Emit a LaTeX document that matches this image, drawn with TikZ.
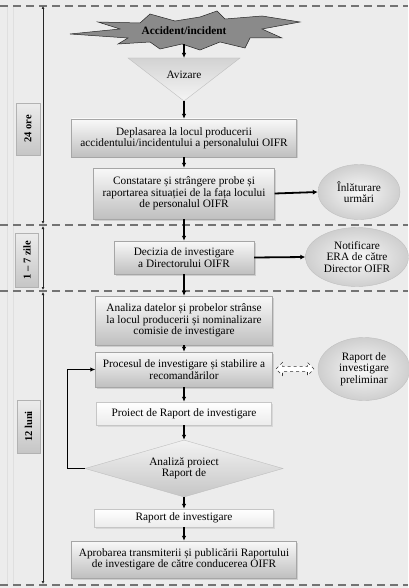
\documentclass[tikz,border=0pt]{standalone}
\usepackage{fontspec}
\setmainfont{Liberation Serif}
\usetikzlibrary{shapes.geometric, shapes.arrows, arrows.meta, shadows}
\definecolor{bggray}{RGB}{236, 236, 236}
\definecolor{burstgray}{RGB}{138, 138, 138}

\begin{document}
\begin{tikzpicture}[x=1pt, y=-1pt,
    every node/.style={font=\fontsize{11.3}{11.3}\selectfont, align=center},
    stepbox/.style={rectangle, draw=gray!70, top color=gray!5, bottom color=gray!50,
      drop shadow={shadow xshift=1.5pt, shadow yshift=-1.5pt, fill=gray!60}, inner sep=1pt},
    lightbox/.style={rectangle, draw=gray!45, top color=white, bottom color=gray!15,
      drop shadow={shadow xshift=1.5pt, shadow yshift=-1.5pt, fill=gray!45}, inner sep=1pt},
    sidebox/.style={ellipse, draw=gray!50, inner color=gray!5, outer color=gray!38, inner sep=0pt},
    periodbox/.style={rectangle, rotate=90, draw=gray!60, top color=gray!15, bottom color=gray!45,
      font=\fontsize{10.5}{10.5}\selectfont\bfseries, inner sep=1pt},
    flow/.style={-{Latex[length=5pt, width=4.5pt]}, line width=1.1pt},
    sideflow/.style={-{Latex[length=5pt, width=5pt]}, line width=1.8pt},
    sepline/.style={gray!90!black, line width=1.8pt, dash pattern=on 8pt off 5pt},
    timeline/.style={{Latex[length=3pt, width=3pt]}-{Latex[length=3pt, width=3pt]}, gray!30!black, line width=0.7pt}
  ]
    \useasboundingbox (0,0) rectangle (408,588);
    % background
    \fill[bggray] (0,0) rectangle (408,588);
    \draw[gray!25] (7,6) -- (7,585) (13,6) -- (13,585);
    % separators between periods
    \foreach \y in {6,225,291,585}
      \draw[sepline] (0,\y) -- (408,\y);
    % time axis
    \foreach \ya/\yb in {6/224,226/290,292/584}
      \draw[timeline] (43,\ya) -- (43,\yb);
    \node[periodbox, minimum width=52, minimum height=24] (ore) at (28,129) {24 ore};
    \node[periodbox, minimum width=54, minimum height=23] (zile) at (27,260) {1 -- 7 zile};
    \node[periodbox, minimum width=53, minimum height=23] (luni) at (28.5,426.5) {12 luni};

    % accident / incident
    \filldraw[fill=burstgray, draw=gray!30!black, line width=0.5pt]
      (70,34) -- (120,29) -- (98,22) -- (140,23) -- (150,14) -- (175,21) -- (200,17)
      -- (217,11) -- (225,19) -- (262,16) -- (300,22) -- (262,29) -- (282,38) -- (250,38)
      -- (245,48) -- (220,42) -- (200,50) -- (182,44) -- (160,49) -- (150,42) -- (118,44)
      -- (128,38) -- cycle;
    \node[font=\fontsize{11.3}{11.3}\selectfont\bfseries, minimum height=26] (acc) at (184,31) {Accident/incident};

    % avizare
    \coordinate (avtop) at (184,58);
    \coordinate (avtip) at (184,101);
    \shade[top color=gray!35, bottom color=gray!8, draw=gray!50]
      (128,58) -- (240,58) -- (avtip) -- cycle;
    \node (aviz) at (184,75) {Avizare};

    % main flow
    \node[stepbox, minimum width=225, minimum height=38] (depl) at (184,138)
      {Deplasarea la locul producerii\\accidentului/incidentului a personalului OIFR};
    \node[stepbox, minimum width=181, minimum height=51] (const) at (184,193.5)
      {Constatare și strângere probe și\\raportarea situației de la fața locului\\de personalul OIFR};
    \node[stepbox, minimum width=140, minimum height=33] (deciz) at (184,257.5)
      {Decizia de investigare\\a Directorului OIFR};
    \node[stepbox, minimum width=177, minimum height=49] (anal) at (184,320.5)
      {Analiza datelor și probelor strânse\\la locul producerii și nominalizare\\comisie de investigare};
    \node[stepbox, minimum width=177, minimum height=35] (proc) at (184,369.5)
      {Procesul de investigare și stabilire a\\recomandărilor};
    \node[lightbox, minimum width=175, minimum height=23] (proiect) at (184,413.5)
      {Proiect de Raport de investigare};
    \node[diamond, draw=gray!50, top color=gray!10, bottom color=gray!45, aspect=3.5,
      minimum width=198, minimum height=57, inner sep=0pt] (diam) at (184,468.5)
      {Analiză proiect\\Raport de};
    \node[lightbox, minimum width=179, minimum height=18] (raport) at (184,518)
      {Raport de investigare};
    \node[stepbox, minimum width=225, minimum height=37] (aprob) at (184,559.5)
      {Aprobarea transmiterii și publicării Raportului\\de investigare de către conducerea OIFR};

    % side results
    \node[sidebox, minimum width=82, minimum height=55] (inlat) at (359,192) {Înlăturare\\urmări};
    \node[sidebox, minimum width=103, minimum height=59] (notif) at (357,257) {Notificare\\ERA de către\\Director OIFR};
    \node[sidebox, minimum width=92, minimum height=63] (prelim) at (364,369) {Raport de\\investigare\\preliminar};
    \node[double arrow, draw=gray!40!black, dashed, fill=white, line width=0.6pt,
      minimum height=38, minimum width=13, inner sep=1pt, double arrow head extend=2pt] (dbl) at (295,369) {};

    % connectors
    \draw[flow] (acc.south) -- (avtop);
    \draw[flow] (avtip) -- (depl.north);
    \draw[flow] (depl) -- (const);
    \draw[flow] (const) -- (deciz);
    \draw[flow] (deciz) -- (anal);
    \draw[flow] (anal) -- (proc);
    \draw[flow] (proc) -- (proiect);
    \draw[flow] (proiect) -- (diam);
    \draw[flow] (diam) -- (raport);
    \draw[flow] (raport) -- (aprob);
    \draw[flow] (diam.west) -- ++(-17,0) |- (proc.west);
    \draw[sideflow] (const.east) -- (inlat.west);
    \draw[sideflow] (deciz.east) -- (notif.west);
\end{tikzpicture}
\end{document}
